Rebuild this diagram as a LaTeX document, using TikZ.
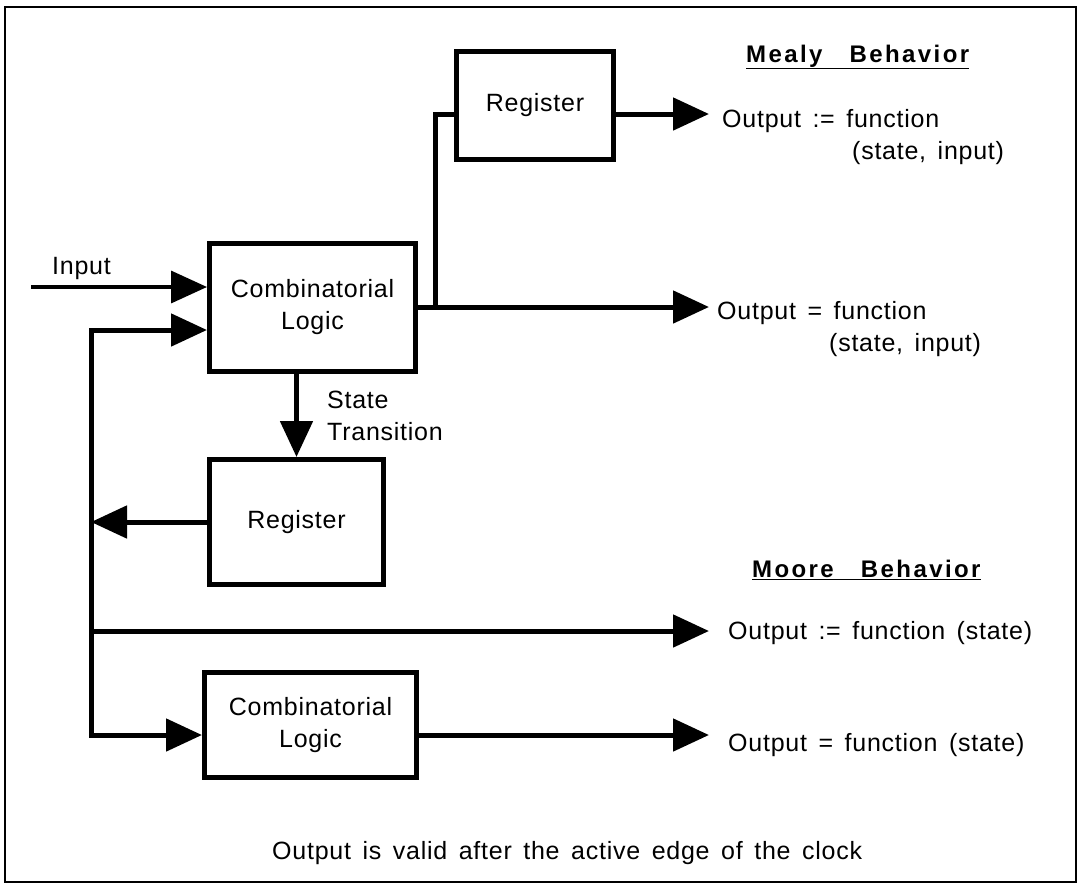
\documentclass[tikz,border=0pt]{standalone}
\usepackage{fontspec}
\setmainfont{Liberation Sans}[LetterSpace=3,WordSpace=1.5]
\newfontfamily\headfont{Liberation Sans}[LetterSpace=10,WordSpace=1.5]
\usetikzlibrary{arrows.meta}

\begin{document}
\begin{tikzpicture}[x=1pt,y=-1pt,
  every node/.style={font=\fontsize{25}{32}\selectfont, inner sep=0pt},
  block/.style={draw, line width=5pt, align=center},
  wire/.style={line width=5pt},
  flow/.style={wire, -{Triangle[length=36pt,width=32pt]}},
  lbl/.style={anchor=west, align=left},
  head/.style={anchor=west, font=\headfont\bfseries\fontsize{24}{28}\selectfont}
]
\useasboundingbox (0,0) rectangle (1080,887);
% outer frame
\draw[line width=2.5pt] (5,7) rectangle (1076,882);

% blocks
\node[block, minimum width=206pt, minimum height=128pt] (comb1) at (312.5,307) {Combinatorial\\Logic};
\node[block, minimum width=157pt, minimum height=108pt] (reg1) at (535,105.5) {Register};
\node[block, minimum width=174pt, minimum height=125pt] (reg2) at (296.5,522) {Register};
\node[block, minimum width=212pt, minimum height=105pt] (comb2) at (310.5,725) {Combinatorial\\Logic};

% routing points
\coordinate (inStart) at (31,287);
\coordinate (fbTop) at (91,330);
\coordinate (fbBot) at (91,735);
\coordinate (split) at (435,307);
\coordinate (splitTop) at (435,114);
\coordinate (mealyA) at (709,114);
\coordinate (mealyB) at (709,307);
\coordinate (mooreStart) at (91,631);
\coordinate (mooreA) at (709,631);
\coordinate (mooreB) at (709,735);

% connectors
\draw[flow, line width=3.5pt] (inStart) -- (inStart -| comb1.west);
\draw[flow] (fbBot) |- (fbTop -| comb1.west);
\draw[flow] (fbTop) |- (fbBot -| comb2.west);
\draw[flow] (reg2.west) -- (fbTop |- reg2.west);
\draw[flow] (mooreStart) -- (mooreA);
\draw[flow] (comb2.east |- fbBot) -- (mooreB);
\draw[flow] (comb1.east) -- (mealyB);
\draw[wire] (split) -- (splitTop) -- (splitTop -| reg1.west);
\draw[flow] (reg1.east |- splitTop) -- (mealyA);
\draw[flow] (reg2.north |- comb1.south) -- (reg2.north);

% labels
\node[lbl] (mealyAtxt) at (722,137) {Output := function\\\hspace*{130pt}(state, input)};
\node[lbl] (mealyBtxt) at (717,329) {Output = function\\\hspace*{112pt}(state, input)};
\node[lbl] (mooreAtxt) at (728,633) {Output := function (state)};
\node[lbl] (mooreBtxt) at (728,745) {Output = function (state)};
\node[head] (mealyHead) at (746,57) {\underline{Mealy\ \ Behavior}};
\node[head] (mooreHead) at (752,570) {\underline{Moore\ \ Behavior}};
\node[lbl] (inTxt) at (52,268) {Input};
\node[lbl] (stTxt) at (327,416) {State\\Transition};
\node[anchor=west] (note) at (272,853) {Output is valid after the active edge of the clock};
\end{tikzpicture}
\end{document}
